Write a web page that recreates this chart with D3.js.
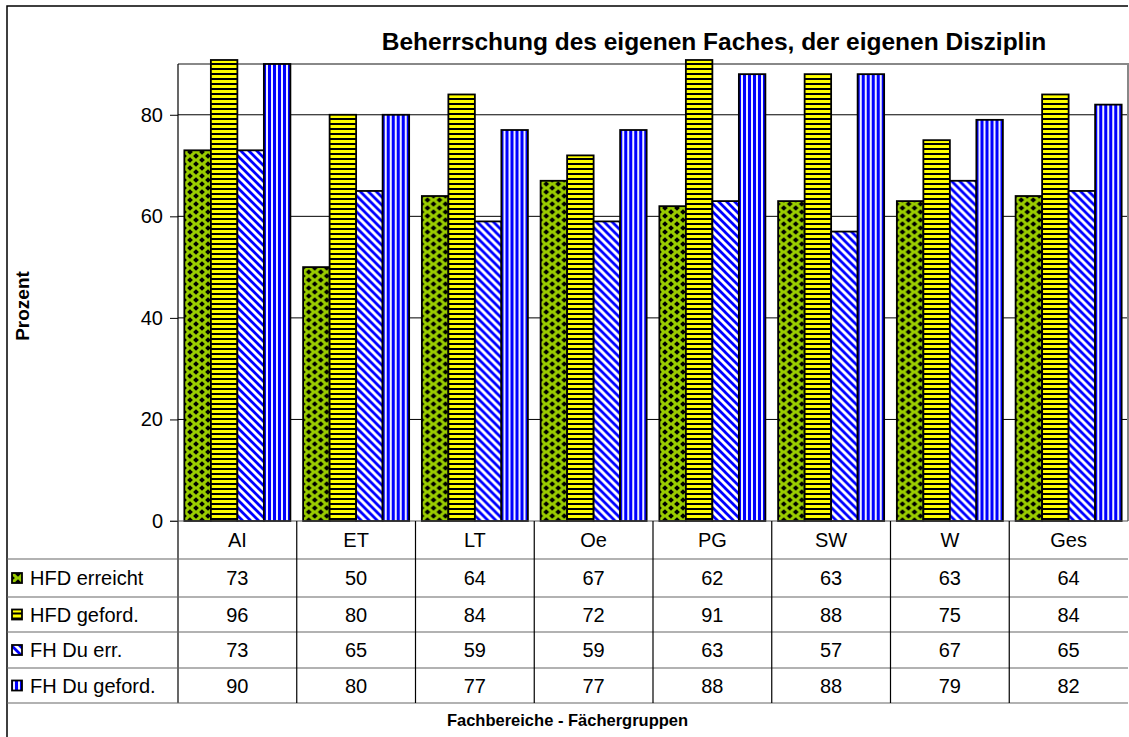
<!DOCTYPE html>
<html>
<head>
<meta charset="utf-8">
<script src="https://cdn.jsdelivr.net/npm/d3@7"></script>
<style>
  body { margin: 0; background: #fff; }
  text { font-family: "Liberation Sans", Arial, sans-serif; fill: #000; }
</style>
</head>
<body>
<script>
const categories = ['AI', 'ET', 'LT', 'Oe', 'PG', 'SW', 'W', 'Ges'];
const seriesNames = ['HFD erreicht', 'HFD geford.', 'FH Du err.', 'FH Du geford.'];
const hfdErreicht = [73, 50, 64, 67, 62, 63, 63, 64];
const hfdGeford = [96, 80, 84, 72, 91, 88, 75, 84];
const fhDuErr = [73, 65, 59, 59, 63, 57, 67, 65];
const fhDuGeford = [90, 80, 77, 77, 88, 88, 79, 82];
const yTicks = [0, 20, 40, 60, 80];

const series = [hfdErreicht, hfdGeford, fhDuErr, fhDuGeford];
const patternIds = ['pGreen', 'pYellow', 'pDiag', 'pVert'];

const W = 1129, H = 737;
const box = {left: 7, top: 6, right: 1128};
const plot = {left: 178, right: 1128, top: 64, bottom: 521};
const rowLines = [559, 597, 632, 668, 703];
const fs = '20px';

const svg = d3.select('body').append('svg')
  .attr('width', W).attr('height', H);

// patterns
const defs = svg.append('defs');
const pg = defs.append('pattern').attr('id', 'pGreen')
  .attr('patternUnits', 'userSpaceOnUse').attr('width', 12).attr('height', 8);
pg.append('rect').attr('width', 12).attr('height', 8).attr('fill', '#99cc00');
[[0, 0], [12, 0], [0, 8], [12, 8], [6, 4]].forEach(([cx, cy]) => {
  pg.append('path').attr('d', `M${cx},${cy - 2.7}L${cx + 2.9},${cy}L${cx},${cy + 2.7}L${cx - 2.9},${cy}Z`)
    .attr('fill', '#000');
});
const py = defs.append('pattern').attr('id', 'pYellow')
  .attr('patternUnits', 'userSpaceOnUse').attr('width', 8).attr('height', 5);
py.append('rect').attr('width', 8).attr('height', 5).attr('fill', '#ffff00');
py.append('rect').attr('y', 3).attr('width', 8).attr('height', 2).attr('fill', '#000');
const pd = defs.append('pattern').attr('id', 'pDiag')
  .attr('patternUnits', 'userSpaceOnUse').attr('width', 8).attr('height', 8);
pd.append('rect').attr('width', 8).attr('height', 8).attr('fill', '#fff');
pd.append('path').attr('d', 'M-2,-2L10,10M-2,6L2,10M6,-2L10,2')
  .attr('stroke', '#0000ff').attr('stroke-width', 2.8);
const pv = defs.append('pattern').attr('id', 'pVert')
  .attr('patternUnits', 'userSpaceOnUse').attr('width', 5).attr('height', 8);
pv.append('rect').attr('width', 5).attr('height', 8).attr('fill', '#0000ff');
pv.append('rect').attr('x', 3).attr('width', 2).attr('height', 8).attr('fill', '#eeeeff');

// outer chart border
svg.append('path')
  .attr('d', `M${box.left},${H + 2}V${box.top}H${box.right}`)
  .attr('fill', 'none').attr('stroke', '#000').attr('stroke-width', 1.5);

// scales
const x0 = d3.scaleBand().domain(categories).range([plot.left, plot.right]).padding(0);
const x1 = d3.scaleBand().domain(d3.range(4)).range([0, x0.bandwidth()])
  .paddingInner(0).paddingOuter(0.24);
const y = d3.scaleLinear().domain([0, 90]).range([plot.bottom, plot.top]);

// gridlines
svg.append('g').selectAll('line').data(yTicks.slice(1)).join('line')
  .attr('x1', plot.left).attr('x2', plot.right)
  .attr('y1', d => y(d)).attr('y2', d => y(d))
  .attr('stroke', '#000').attr('stroke-width', 1);

// plot area top/right border
svg.append('path')
  .attr('d', `M${plot.left},${plot.top}H${plot.right}V${plot.bottom}`)
  .attr('fill', 'none').attr('stroke', '#888').attr('stroke-width', 2);

// bars
const clipTop = y(90) - 4;
const groups = svg.append('g').selectAll('g').data(categories).join('g')
  .attr('transform', d => `translate(${x0(d)},0)`);
groups.selectAll('rect')
  .data((c, ci) => series.map((s, si) => ({si, v: s[ci]})))
  .join('rect')
  .attr('x', d => x1(d.si))
  .attr('width', x1.bandwidth())
  .attr('y', d => Math.max(y(d.v), clipTop))
  .attr('height', d => plot.bottom - Math.max(y(d.v), clipTop))
  .attr('fill', d => `url(#${patternIds[d.si]})`)
  .attr('stroke', '#000').attr('stroke-width', 1.8);

// y axis
const yAxis = svg.append('g')
  .attr('transform', `translate(${plot.left},0)`)
  .call(d3.axisLeft(y).tickValues(yTicks).tickSize(8).tickPadding(7));
yAxis.select('.domain').remove();
yAxis.selectAll('line').attr('stroke', '#000');
yAxis.selectAll('text').style('font-size', fs)
  .style('font-family', '"Liberation Sans", Arial, sans-serif');

// axis line and table lines
svg.append('line').attr('x1', plot.left).attr('x2', plot.left)
  .attr('y1', plot.top).attr('y2', rowLines[rowLines.length - 1])
  .attr('stroke', '#000').attr('stroke-width', 1.2);
svg.append('line').attr('x1', plot.left - 8).attr('x2', plot.right)
  .attr('y1', plot.bottom).attr('y2', plot.bottom)
  .attr('stroke', '#555').attr('stroke-width', 1.2);
svg.append('g').selectAll('line').data(rowLines).join('line')
  .attr('x1', box.left).attr('x2', plot.right)
  .attr('y1', d => d).attr('y2', d => d)
  .attr('stroke', '#666').attr('stroke-width', 1.2);
svg.append('g').selectAll('line').data(categories.slice(1)).join('line')
  .attr('x1', d => x0(d)).attr('x2', d => x0(d))
  .attr('y1', plot.bottom).attr('y2', rowLines[rowLines.length - 1])
  .attr('stroke', '#000').attr('stroke-width', 1.2);

// category labels
svg.append('g').selectAll('text').data(categories).join('text')
  .attr('x', d => x0(d) + x0.bandwidth() / 2)
  .attr('y', (plot.bottom + rowLines[0]) / 2 + 7)
  .attr('text-anchor', 'middle').style('font-size', fs)
  .text(d => d);

// table rows
const rows = svg.append('g').selectAll('g').data(series).join('g')
  .attr('transform', (d, i) => `translate(0,${(rowLines[i] + rowLines[i + 1]) / 2})`);
rows.selectAll('text.val').data(d => d).join('text')
  .attr('class', 'val')
  .attr('x', (d, i) => x0(categories[i]) + x0.bandwidth() / 2)
  .attr('y', 7).attr('text-anchor', 'middle').style('font-size', fs)
  .text(d => d);
rows.append('rect')
  .attr('x', 12).attr('y', -5).attr('width', 10).attr('height', 10)
  .attr('fill', (d, i) => `url(#${patternIds[i]})`)
  .attr('stroke', '#000').attr('stroke-width', 1.8);
rows.append('text')
  .attr('x', 30).attr('y', 7).style('font-size', fs)
  .text((d, i) => seriesNames[i]);

// titles
svg.append('text')
  .attr('x', 714).attr('y', 50).attr('text-anchor', 'middle')
  .style('font-size', '24.5px').style('font-weight', 'bold')
  .text('Beherrschung des eigenen Faches, der eigenen Disziplin');
svg.append('text')
  .attr('transform', 'translate(29,306) rotate(-90)')
  .attr('text-anchor', 'middle')
  .style('font-size', '19px').style('font-weight', 'bold')
  .text('Prozent');
svg.append('text')
  .attr('x', (box.left + box.right) / 2).attr('y', 726).attr('text-anchor', 'middle')
  .style('font-size', '16.5px').style('font-weight', 'bold')
  .text('Fachbereiche - Fächergruppen');
</script>
</body>
</html>
